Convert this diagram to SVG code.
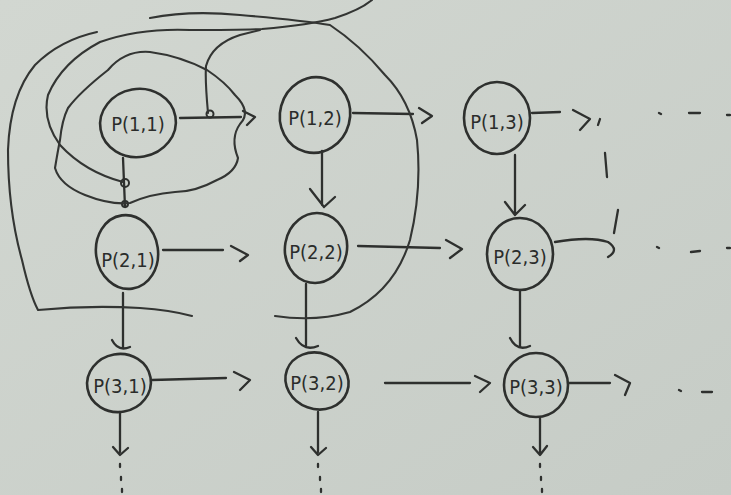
<svg xmlns="http://www.w3.org/2000/svg" width="731" height="495" viewBox="0 0 731 495">
<defs>
<linearGradient id="bg" x1="0" y1="0" x2="1" y2="1">
<stop offset="0" stop-color="#d2d7d1"/>
<stop offset="1" stop-color="#c6ccc6"/>
</linearGradient>
</defs>
<style>
.n{fill:none;stroke:#2e302e;stroke-width:2.6}
.t{font-family:"DejaVu Sans Condensed","DejaVu Sans",sans-serif;font-size:20px;fill:#2a2c2a;text-anchor:middle;dominant-baseline:central}
.c{fill:none;stroke:#2e302e;stroke-width:2.3;stroke-linecap:round;stroke-linejoin:round}
.h{fill:none;stroke:#333533;stroke-width:2.1;stroke-linecap:round;stroke-linejoin:round}
.j{fill:none;stroke:#2e302e;stroke-width:2}
</style>
<rect width="731" height="495" fill="url(#bg)"/>

<g id="node-p11"><ellipse class="n" cx="138" cy="123" rx="38" ry="34" transform="rotate(-10 138 123)"/><text class="t" x="138" y="124">P(1,1)</text></g>
<g id="node-p12"><ellipse class="n" cx="315" cy="115" rx="35" ry="38" transform="rotate(15 315 115)"/><text class="t" x="315" y="118">P(1,2)</text></g>
<g id="node-p13"><ellipse class="n" cx="497" cy="118" rx="33" ry="36"/><text class="t" x="497" y="122">P(1,3)</text></g>
<g id="node-p21"><ellipse class="n" cx="127" cy="252" rx="31" ry="37" transform="rotate(-8 127 252)"/><text class="t" x="128" y="260">P(2,1)</text></g>
<g id="node-p22"><ellipse class="n" cx="316" cy="248" rx="31" ry="35" transform="rotate(10 316 248)"/><text class="t" x="316" y="252">P(2,2)</text></g>
<g id="node-p23"><ellipse class="n" cx="520" cy="254" rx="33" ry="36"/><text class="t" x="520" y="257">P(2,3)</text></g>
<g id="node-p31"><ellipse class="n" cx="119" cy="383" rx="32" ry="29" transform="rotate(-10 119 383)"/><text class="t" x="120" y="386">P(3,1)</text></g>
<g id="node-p32"><ellipse class="n" cx="317" cy="381" rx="32" ry="28" transform="rotate(20 317 381)"/><text class="t" x="317" y="383">P(3,2)</text></g>
<g id="node-p33"><ellipse class="n" cx="536" cy="385" rx="32" ry="32"/><text class="t" x="536" y="387">P(3,3)</text></g>

<g id="connectors">
<path class="c" d="M180,118 L241,117 M243,111 L255,117 L247,125"/>
<circle class="j" cx="210" cy="114" r="3.5"/>
<path class="c" d="M353,113 L413,114 M419,108 L432,116 L422,123"/>
<path class="c" d="M532,113 L560,112 M573,110 L590,119 L580,130 M600,119 L598,125"/>
<path class="c" d="M659,113 L661,114 M689,113 L700,113 M727,115 L730,115"/>
<path class="c" d="M605,153 L607,177 M618,210 L614,233"/>
<path class="c" d="M163,250 L223,250 M231,246 L248,255 L240,261"/>
<path class="c" d="M358,246 L440,248 M446,240 L462,249 L450,258"/>
<path class="c" d="M555,242 Q590,236 608,242 Q620,250 608,257"/>
<path class="c" d="M657,247 L659,248 M691,252 L700,251 M727,248 L730,248"/>
<path class="c" d="M152,380 L226,378 M234,372 L250,380 L240,390"/>
<path class="c" d="M385,383 L470,383 M475,376 L490,383 L480,392"/>
<path class="c" d="M568,383 L610,383 M615,375 L630,383 L625,395"/>
<path class="c" d="M679,390 L681,391 M702,392 L712,392"/>
<path class="c" d="M123,158 L125,207"/>
<circle class="j" cx="125" cy="183" r="4"/>
<circle class="j" cx="125" cy="204" r="3"/>
<path class="c" d="M322,151 L322,205 M310,189 L324,207 L335,197"/>
<path class="c" d="M515,155 L515,214 M505,202 L515,215 L525,205"/>
<path class="c" d="M123,293 L123,348 M112,340 Q118,352 130,347"/>
<path class="c" d="M306,284 L306,346 M296,338 Q304,352 318,346"/>
<path class="c" d="M520,290 L520,346 M510,338 Q517,352 530,346"/>
<path class="c" d="M120,412 L120,452 M113,447 L120,455 L128,448"/>
<path class="c" d="M318,412 L318,452 M311,447 L318,455 L326,448"/>
<path class="c" d="M540,418 L540,452 M533,447 L540,455 L547,446"/>
<path class="c" d="M120,464 L120,467 M121,477 L121,480 M122,489 L122,492"/>
<path class="c" d="M318,464 L318,467 M320,477 L320,480 M321,489 L321,492"/>
<path class="c" d="M540,464 L540,467 M541,477 L541,480 M542,489 L542,492"/>
<path class="h" d="M108,70 Q125,50 150,52 Q180,56 207,70 Q225,82 235,95 Q252,112 240,124 Q230,138 238,158 Q236,172 217,180 Q195,192 175,192 Q150,194 130,203 Q110,205 85,195 Q60,185 55,168 Q58,150 60,140 Q62,120 68,108 Q80,92 108,70"/>
<path class="h" d="M123,182 Q85,172 60,145 Q42,120 48,95 Q62,62 100,42 Q140,28 190,30 Q240,30 262,29 Q310,25 335,18 Q360,10 372,0"/>
<path class="h" d="M208,113 Q205,80 206,66 Q212,44 240,35 L260,30"/>
<path class="h" d="M150,18 Q190,10 240,15 Q300,20 330,25 Q360,45 385,75 Q410,100 417,140 Q422,190 410,240 Q395,290 350,312 Q315,322 275,316"/>
<path class="h" d="M97,32 Q60,40 35,65 Q10,95 8,150 Q8,210 22,260 Q30,295 38,310 Q90,305 140,308 Q170,310 192,316"/>
</g>
</svg>
